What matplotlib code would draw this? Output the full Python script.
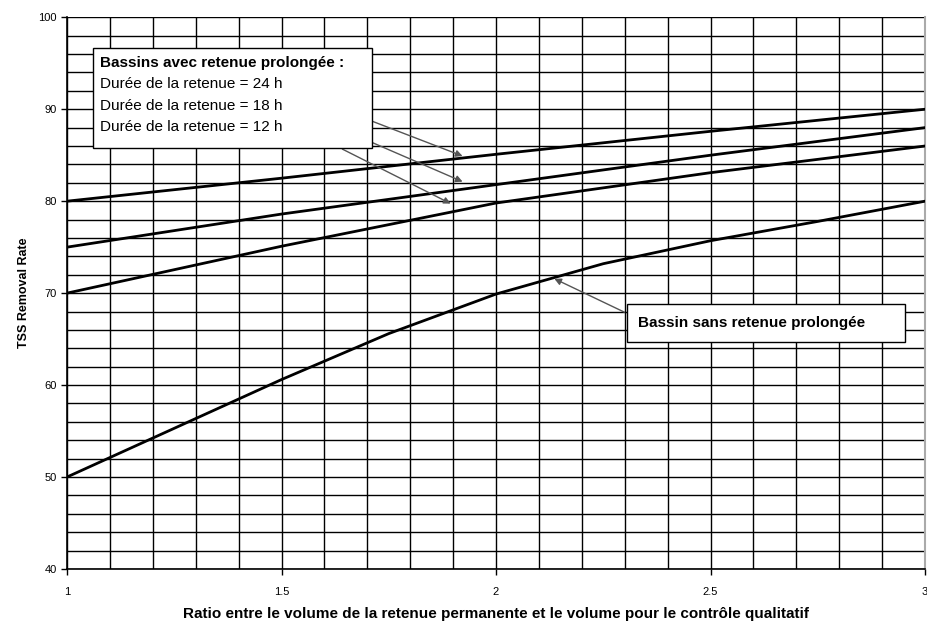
import numpy as np
import matplotlib
matplotlib.use("Agg")
import matplotlib.pyplot as plt
from matplotlib.ticker import MultipleLocator, FuncFormatter

# Données
ratio = [1.0, 1.5, 2.0, 2.5, 3.0]
retenue_24h = [80.0, 82.5, 85.1, 87.6, 90.0]
retenue_18h = [75.0, 78.6, 81.8, 85.0, 88.0]
retenue_12h = [70.0, 75.1, 79.8, 83.1, 86.0]

ratio_sans = [1.0, 1.25, 1.5, 1.75, 2.0, 2.25, 2.5, 2.75, 3.0]
sans_retenue = [50.0, 55.3, 60.6, 65.6, 69.9, 73.2, 75.7, 77.8, 80.0]

box_lines = ["Durée de la retenue = 24 h",
             "Durée de la retenue = 18 h",
             "Durée de la retenue = 12 h"]

arial = ["Liberation Sans", "DejaVu Sans"]
plt.rcParams["font.family"] = arial

fig = plt.figure(figsize=(9.27, 6.31), dpi=100)
ax = fig.add_axes([0.0723, 0.0983, 0.9256, 0.8743])

ax.set_xlim(1, 3)
ax.set_ylim(40, 100)

# grille
ax.xaxis.set_major_locator(MultipleLocator(0.5))
ax.xaxis.set_minor_locator(MultipleLocator(0.1))
ax.yaxis.set_major_locator(MultipleLocator(10))
ax.yaxis.set_minor_locator(MultipleLocator(2))
fmt = FuncFormatter(lambda v, p: "%g" % v)
ax.xaxis.set_major_formatter(fmt)
ax.yaxis.set_major_formatter(fmt)
ax.grid(which="both", color="black", linewidth=1.0, zorder=0)
ax.tick_params(which="minor", length=0)
ax.tick_params(which="major", length=4, width=1, direction="out", labelsize=8)
ax.tick_params(axis="x", pad=9)

for s in ["left", "bottom"]:
    ax.spines[s].set_color("black")
    ax.spines[s].set_linewidth(1.2)
ax.spines["top"].set_visible(False)
ax.spines["right"].set_color("#aaaaaa")
ax.spines["right"].set_linewidth(1.5)

# courbes
for ys in [retenue_24h, retenue_18h, retenue_12h]:
    ax.plot(ratio, ys, color="black", linewidth=2.0, zorder=3)
ax.plot(ratio_sans, sans_retenue, color="black", linewidth=2.0, zorder=3)

ax.set_ylabel("TSS Removal Rate", fontsize=9, fontweight="bold", labelpad=6)
ax.set_xlabel("Ratio entre le volume de la retenue permanente et le volume pour le contrôle qualitatif",
              fontsize=11, fontweight="bold", labelpad=7)

# flèches
arrow_style = dict(arrowstyle="-|>", color="#555555", lw=1.0, mutation_scale=10)
ax.annotate("", xy=(1.928, 84.8), xytext=(1.636, 90.05), arrowprops=arrow_style, zorder=4)
ax.annotate("", xy=(1.928, 82.0), xytext=(1.636, 87.9), arrowprops=arrow_style, zorder=4)
ax.annotate("", xy=(1.90, 79.6), xytext=(1.636, 85.8), arrowprops=arrow_style, zorder=4)
ax.annotate("", xy=(2.13, 71.7), xytext=(2.305, 67.8), arrowprops=arrow_style, zorder=4)

# encadré retenue prolongée
bx0, bx1, by0, by1 = 1.061, 1.710, 85.8, 96.7
ax.add_patch(plt.Rectangle((bx0, by0), bx1 - bx0, by1 - by0, facecolor="white",
                           edgecolor="black", linewidth=1.0, zorder=5))
ax.text(bx0 + 0.015, 95.0, "Bassins avec retenue prolongée :", fontsize=11,
        fontweight="bold", va="center", zorder=6)
for i, t in enumerate(box_lines):
    ax.text(bx0 + 0.015, 92.7 - 2.3 * i, t, fontsize=11, va="center", zorder=6)

# encadré sans retenue
cx0, cx1, cy0, cy1 = 2.305, 2.953, 64.7, 68.8
ax.add_patch(plt.Rectangle((cx0, cy0), cx1 - cx0, cy1 - cy0, facecolor="white",
                           edgecolor="black", linewidth=1.0, zorder=5))
ax.text(cx0 + 0.025, (cy0 + cy1) / 2, "Bassin sans retenue prolongée", fontsize=11,
        fontweight="bold", va="center", zorder=6)

fig.savefig("out.png", dpi=100)
